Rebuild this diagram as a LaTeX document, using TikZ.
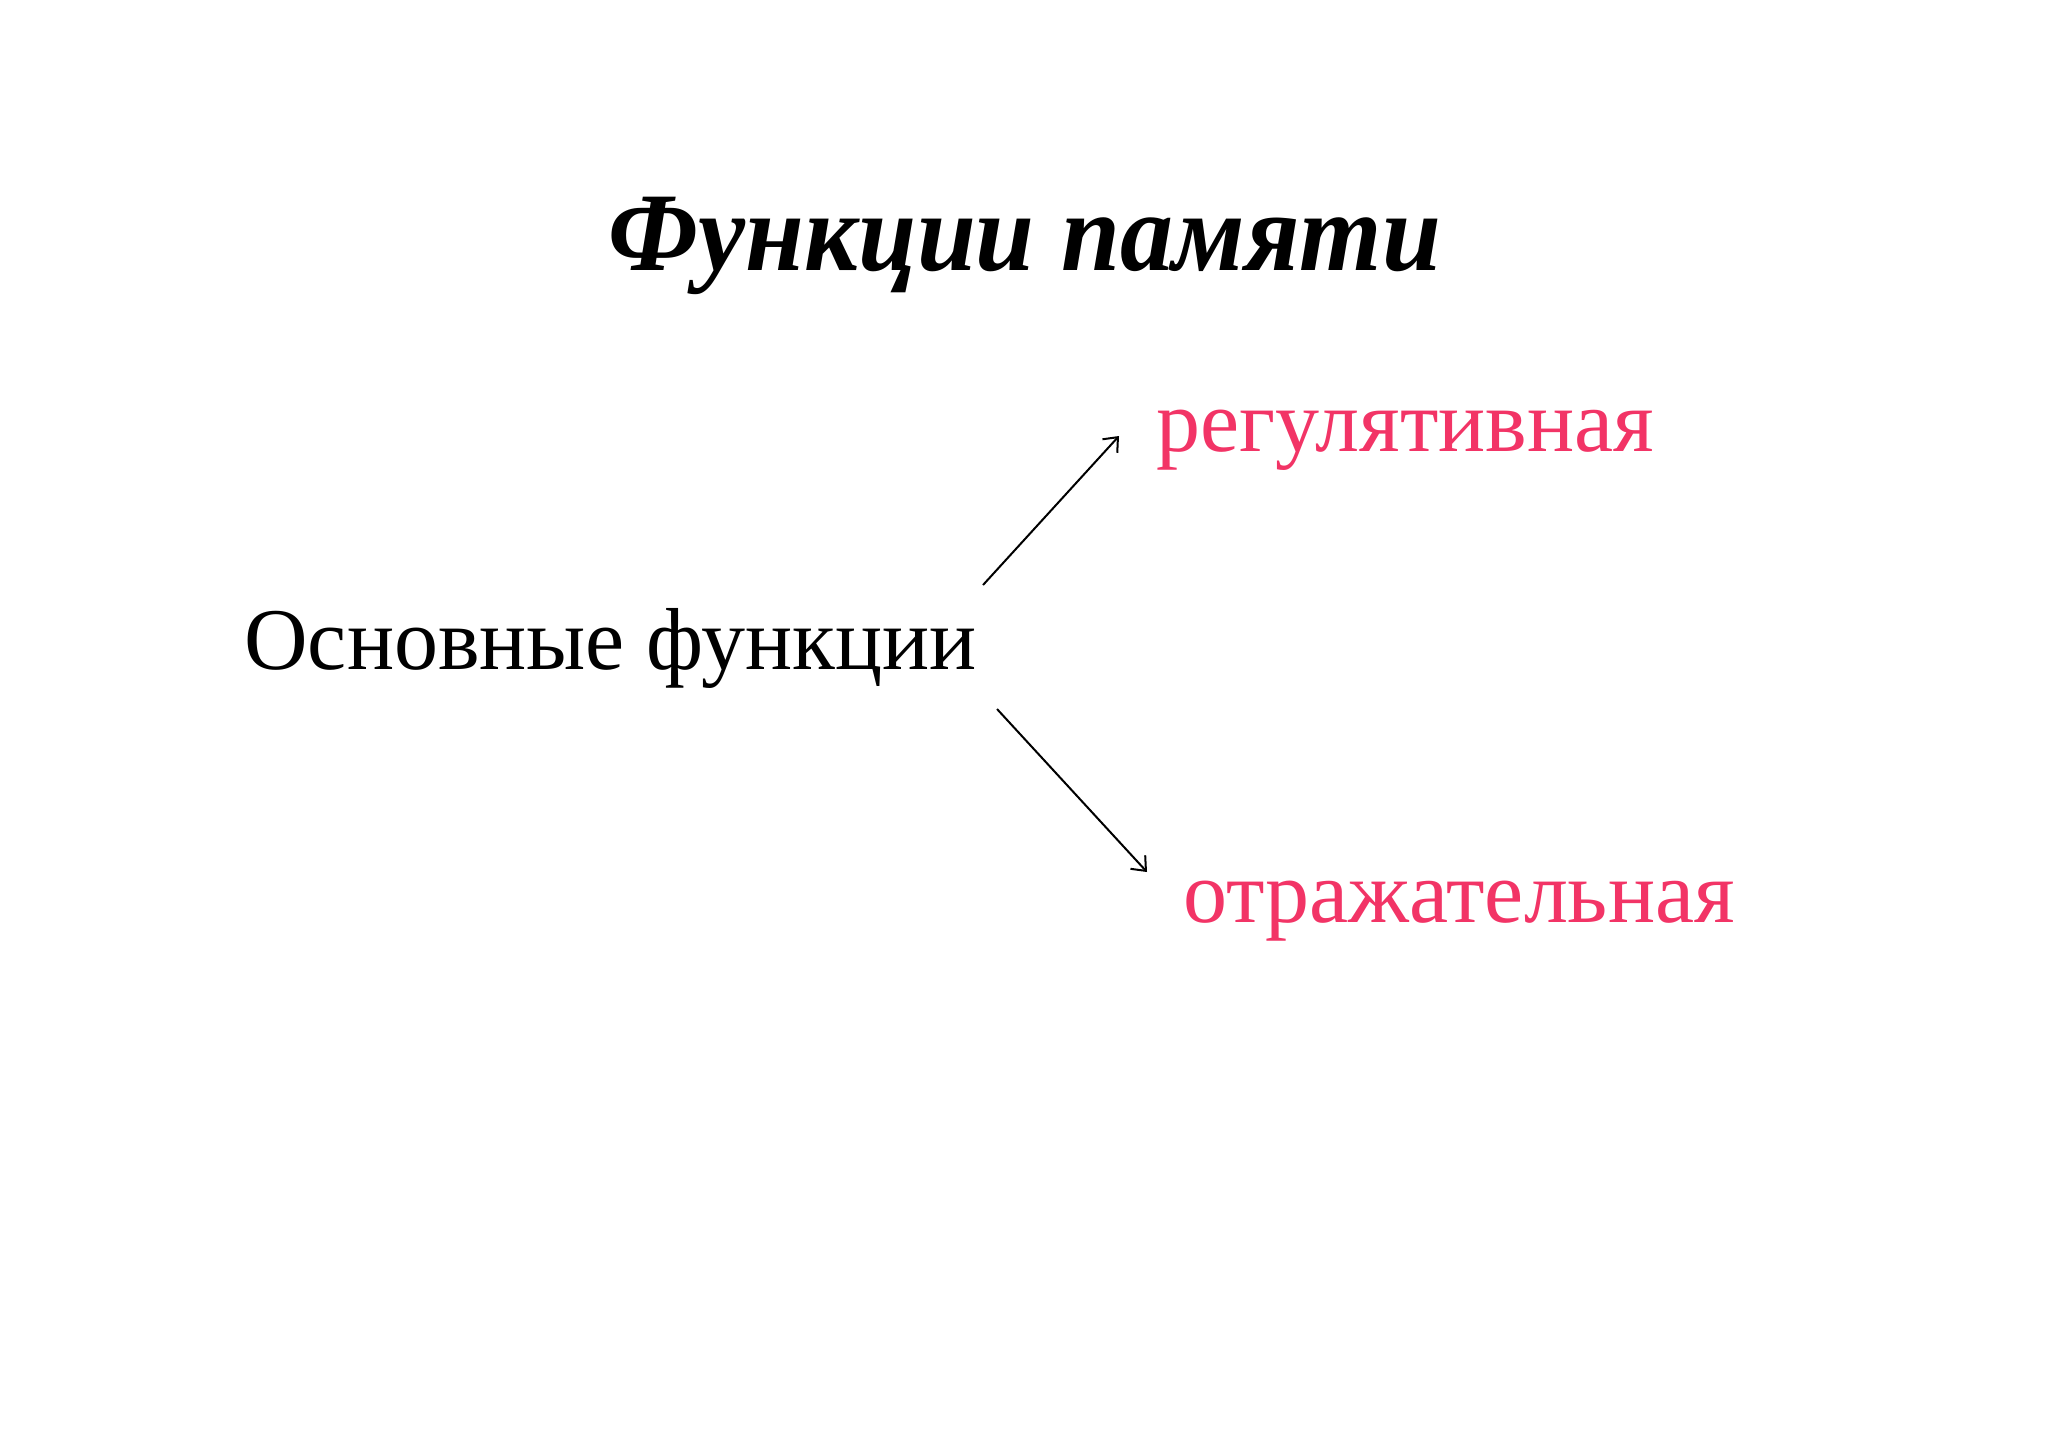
\documentclass[tikz,border=0pt]{standalone}
\usepackage{fontspec}
\setmainfont{Liberation Serif}
\usetikzlibrary{arrows.meta}
\definecolor{rosered}{HTML}{F23466}
\begin{document}
\begin{tikzpicture}[x=0.5pt,y=-0.5pt,
  titletext/.style={anchor=base, inner sep=0pt, font=\fontsize{56}{60}\selectfont\bfseries\itshape},
  maintext/.style={anchor=base west, inner sep=0pt, font=\fontsize{44}{48}\selectfont},
  redtext/.style={anchor=base west, inner sep=0pt, text=rosered, font=\fontsize{44}{48}\selectfont},
  conn/.style={-{Straight Barb[length=6pt,width=10pt]}, line width=1pt}]
\useasboundingbox (0,0) rectangle (2048,1447);
\node[titletext] (title) at (1025,270) {\scalebox{0.945}[1]{Функции памяти}};
\node[maintext] (main) at (244,669) {Основные функции};
\node[redtext] (reg) at (1156,451) {регулятивная};
\node[redtext] (otr) at (1183,922) {отражательная};
\coordinate (a1s) at (983,585);
\coordinate (a1e) at (1119,436);
\coordinate (a2s) at (997,709);
\coordinate (a2e) at (1147,872);
\draw[conn] (a1s) -- (a1e);
\draw[conn] (a2s) -- (a2e);
\end{tikzpicture}
\end{document}
